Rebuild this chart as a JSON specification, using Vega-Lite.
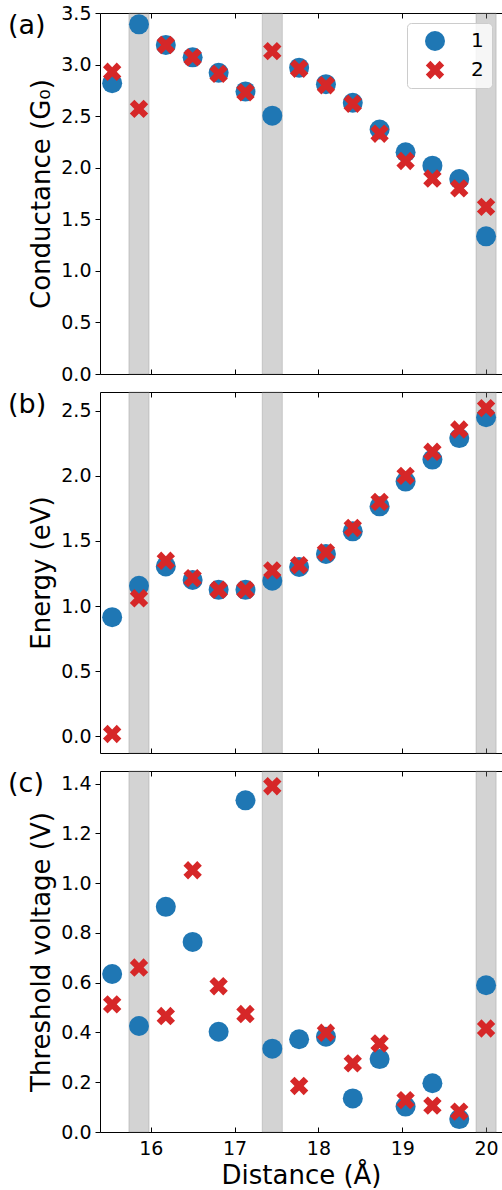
{
  "$schema": "https://vega.github.io/schema/vega-lite/v6.json",
  "autosize": {"type": "pad"},
  "padding": {"left": 8, "top": 4, "right": 0, "bottom": 0},
  "datasets": {
    "pts": [
      {"distance": 15.54, "series": "1", "conductance": 2.82, "energy": 0.915, "voltage": 0.635},
      {"distance": 15.86, "series": "1", "conductance": 3.39, "energy": 1.156, "voltage": 0.426},
      {"distance": 16.18, "series": "1", "conductance": 3.19, "energy": 1.305, "voltage": 0.905},
      {"distance": 16.50, "series": "1", "conductance": 3.07, "energy": 1.20, "voltage": 0.764},
      {"distance": 16.81, "series": "1", "conductance": 2.92, "energy": 1.125, "voltage": 0.403},
      {"distance": 17.13, "series": "1", "conductance": 2.74, "energy": 1.125, "voltage": 1.333},
      {"distance": 17.45, "series": "1", "conductance": 2.505, "energy": 1.195, "voltage": 0.335},
      {"distance": 17.77, "series": "1", "conductance": 2.97, "energy": 1.30, "voltage": 0.373},
      {"distance": 18.09, "series": "1", "conductance": 2.81, "energy": 1.40, "voltage": 0.383},
      {"distance": 18.41, "series": "1", "conductance": 2.63, "energy": 1.574, "voltage": 0.135},
      {"distance": 18.73, "series": "1", "conductance": 2.37, "energy": 1.766, "voltage": 0.293},
      {"distance": 19.04, "series": "1", "conductance": 2.15, "energy": 1.956, "voltage": 0.102},
      {"distance": 19.36, "series": "1", "conductance": 2.02, "energy": 2.125, "voltage": 0.196},
      {"distance": 19.68, "series": "1", "conductance": 1.89, "energy": 2.29, "voltage": 0.052},
      {"distance": 20.00, "series": "1", "conductance": 1.335, "energy": 2.45, "voltage": 0.59},
      {"distance": 15.54, "series": "2", "conductance": 2.93, "energy": 0.018, "voltage": 0.513},
      {"distance": 15.86, "series": "2", "conductance": 2.57, "energy": 1.06, "voltage": 0.661},
      {"distance": 16.18, "series": "2", "conductance": 3.19, "energy": 1.348, "voltage": 0.466},
      {"distance": 16.50, "series": "2", "conductance": 3.07, "energy": 1.215, "voltage": 1.052},
      {"distance": 16.81, "series": "2", "conductance": 2.91, "energy": 1.125, "voltage": 0.586},
      {"distance": 17.13, "series": "2", "conductance": 2.73, "energy": 1.125, "voltage": 0.474},
      {"distance": 17.45, "series": "2", "conductance": 3.13, "energy": 1.274, "voltage": 1.39},
      {"distance": 17.77, "series": "2", "conductance": 2.96, "energy": 1.315, "voltage": 0.185},
      {"distance": 18.09, "series": "2", "conductance": 2.80, "energy": 1.412, "voltage": 0.399},
      {"distance": 18.41, "series": "2", "conductance": 2.62, "energy": 1.60, "voltage": 0.276},
      {"distance": 18.73, "series": "2", "conductance": 2.33, "energy": 1.80, "voltage": 0.356},
      {"distance": 19.04, "series": "2", "conductance": 2.065, "energy": 2.0, "voltage": 0.128},
      {"distance": 19.36, "series": "2", "conductance": 1.895, "energy": 2.185, "voltage": 0.106},
      {"distance": 19.68, "series": "2", "conductance": 1.80, "energy": 2.356, "voltage": 0.082},
      {"distance": 20.00, "series": "2", "conductance": 1.62, "energy": 2.52, "voltage": 0.416}
    ],
    "bands": [
      {"start": 15.74, "end": 15.98},
      {"start": 17.33, "end": 17.57},
      {"start": 19.88, "end": 20.12}
    ]
  },
  "spacing": 18,
  "bounds": "flush",
  "resolve": {"legend": {"color": "independent", "shape": "independent"}},
  "vconcat": [
    {
      "width": 402, "height": 361,
      "resolve": {"axis": {"x": "independent"}},
      "layer": [
        {
          "data": {"name": "bands"},
          "mark": {"type": "rect", "fill": "gray", "fillOpacity": 0.35, "stroke": "gray", "strokeOpacity": 0.3, "strokeWidth": 1, "y2Offset": 18},
          "encoding": {
            "x": {"field": "start", "type": "quantitative", "scale": {"domain": [15.395, 20.19], "nice": false, "zero": false},
                  "axis": {"orient": "top", "labels": false, "tickSize": -5, "values": [16, 17, 18, 19, 20], "title": null}},
            "x2": {"field": "end"}
          }
        },
        {
          "data": {"name": "pts"},
          "mark": {"type": "point", "filled": true, "size": 400, "opacity": 1, "strokeWidth": 0},
          "encoding": {
            "x": {"field": "distance", "type": "quantitative", "scale": {"domain": [15.395, 20.19], "nice": false, "zero": false},
                  "axis": {"orient": "bottom", "labels": false, "tickSize": -5, "values": [16, 17, 18, 19, 20], "title": null}},
            "y": {"field": "conductance", "type": "quantitative", "scale": {"domain": [0, 3.5], "nice": false, "zero": false},
                  "axis": {"title": "Conductance (G₀)", "values": [0, 0.5, 1, 1.5, 2, 2.5, 3, 3.5], "format": ".1f", "tickSize": 5, "labelPadding": 4, "titlePadding": 6}},
            "color": {"field": "series", "type": "nominal", "scale": {"domain": ["1", "2"], "range": ["#1f77b4", "#d62728"]},
                      "legend": {"title": null, "orient": "top-right", "offset": 10, "padding": 8, "symbolOffset": 10, "labelOffset": 26, "rowPadding": 9, "symbolSize": 400, "labelFontSize": 20, "fillColor": "rgba(255,255,255,0.8)", "strokeColor": "#cccccc", "cornerRadius": 4, "symbolStrokeWidth": 0}},
            "shape": {"field": "series", "type": "nominal", "scale": {"domain": ["1", "2"], "range": ["circle", "M-0.46,-0.92L0,-0.46L0.46,-0.92L0.92,-0.46L0.46,0L0.92,0.46L0.46,0.92L0,0.46L-0.46,0.92L-0.92,0.46L-0.46,0L-0.92,-0.46Z"]},
                      "legend": {"title": null, "orient": "top-right", "offset": 10, "padding": 8, "symbolOffset": 10, "labelOffset": 26, "rowPadding": 9, "symbolSize": 400, "labelFontSize": 20, "fillColor": "rgba(255,255,255,0.8)", "strokeColor": "#cccccc", "cornerRadius": 4, "symbolStrokeWidth": 0}}
          }
        },
        {
          "data": {"values": [{"label": "(a)"}]},
          "mark": {"type": "text", "align": "left", "baseline": "top", "fontSize": 27, "color": "black"},
          "encoding": {
            "x": {"datum": 14.298, "type": "quantitative", "scale": {"domain": [15.395, 20.19], "nice": false, "zero": false}, "axis": null},
            "y": {"datum": 3.5, "type": "quantitative", "scale": {"domain": [0, 3.5], "nice": false, "zero": false},
                  "axis": {"title": "Conductance (G₀)", "values": [0, 0.5, 1, 1.5, 2, 2.5, 3, 3.5], "format": ".1f", "tickSize": 5, "labelPadding": 4, "titlePadding": 6}},
            "text": {"field": "label"}
          }
        }
      ]
    },
    {
      "width": 402, "height": 361,
      "resolve": {"axis": {"x": "independent"}},
      "layer": [
        {
          "data": {"name": "bands"},
          "mark": {"type": "rect", "fill": "gray", "fillOpacity": 0.35, "stroke": "gray", "strokeOpacity": 0.3, "strokeWidth": 1, "y2Offset": 18},
          "encoding": {
            "x": {"field": "start", "type": "quantitative", "scale": {"domain": [15.395, 20.19], "nice": false, "zero": false},
                  "axis": {"orient": "top", "labels": false, "tickSize": -5, "values": [16, 17, 18, 19, 20], "title": null}},
            "x2": {"field": "end"}
          }
        },
        {
          "data": {"name": "pts"},
          "mark": {"type": "point", "filled": true, "size": 400, "opacity": 1, "strokeWidth": 0},
          "encoding": {
            "x": {"field": "distance", "type": "quantitative", "scale": {"domain": [15.395, 20.19], "nice": false, "zero": false},
                  "axis": {"orient": "bottom", "labels": false, "tickSize": -5, "values": [16, 17, 18, 19, 20], "title": null}},
            "y": {"field": "energy", "type": "quantitative", "scale": {"domain": [-0.128, 2.644], "nice": false, "zero": false},
                  "axis": {"title": "Energy (eV)", "values": [0, 0.5, 1, 1.5, 2, 2.5], "format": ".1f", "tickSize": 5, "labelPadding": 4, "titlePadding": 6}},
            "color": {"field": "series", "type": "nominal", "scale": {"domain": ["1", "2"], "range": ["#1f77b4", "#d62728"]}, "legend": null},
            "shape": {"field": "series", "type": "nominal", "scale": {"domain": ["1", "2"], "range": ["circle", "M-0.46,-0.92L0,-0.46L0.46,-0.92L0.92,-0.46L0.46,0L0.92,0.46L0.46,0.92L0,0.46L-0.46,0.92L-0.92,0.46L-0.46,0L-0.92,-0.46Z"]}, "legend": null}
          }
        },
        {
          "data": {"values": [{"label": "(b)"}]},
          "mark": {"type": "text", "align": "left", "baseline": "top", "fontSize": 27, "color": "black"},
          "encoding": {
            "x": {"datum": 14.298, "type": "quantitative", "scale": {"domain": [15.395, 20.19], "nice": false, "zero": false}, "axis": null},
            "y": {"datum": 2.644, "type": "quantitative", "scale": {"domain": [-0.128, 2.644], "nice": false, "zero": false},
                  "axis": {"title": "Energy (eV)", "values": [0, 0.5, 1, 1.5, 2, 2.5], "format": ".1f", "tickSize": 5, "labelPadding": 4, "titlePadding": 6}},
            "text": {"field": "label"}
          }
        }
      ]
    },
    {
      "width": 402, "height": 361,
      "resolve": {"axis": {"x": "independent"}},
      "layer": [
        {
          "data": {"name": "bands"},
          "mark": {"type": "rect", "fill": "gray", "fillOpacity": 0.35, "stroke": "gray", "strokeOpacity": 0.3, "strokeWidth": 1},
          "encoding": {
            "x": {"field": "start", "type": "quantitative", "scale": {"domain": [15.395, 20.19], "nice": false, "zero": false},
                  "axis": {"orient": "top", "labels": false, "tickSize": -5, "values": [16, 17, 18, 19, 20], "title": null}},
            "x2": {"field": "end"}
          }
        },
        {
          "data": {"name": "pts"},
          "mark": {"type": "point", "filled": true, "size": 400, "opacity": 1, "strokeWidth": 0},
          "encoding": {
            "x": {"field": "distance", "type": "quantitative", "scale": {"domain": [15.395, 20.19], "nice": false, "zero": false},
                  "axis": {"orient": "bottom", "tickSize": -5, "labelPadding": 12, "values": [16, 17, 18, 19, 20], "format": "d", "title": "Distance (Å)", "titlePadding": 4, "labelFlush": false}},
            "y": {"field": "voltage", "type": "quantitative", "scale": {"domain": [0, 1.451], "nice": false, "zero": false},
                  "axis": {"title": "Threshold voltage (V)", "values": [0, 0.2, 0.4, 0.6, 0.8, 1.0, 1.2, 1.4], "format": ".1f", "tickSize": 5, "labelPadding": 4, "titlePadding": 6}},
            "color": {"field": "series", "type": "nominal", "scale": {"domain": ["1", "2"], "range": ["#1f77b4", "#d62728"]}, "legend": null},
            "shape": {"field": "series", "type": "nominal", "scale": {"domain": ["1", "2"], "range": ["circle", "M-0.46,-0.92L0,-0.46L0.46,-0.92L0.92,-0.46L0.46,0L0.92,0.46L0.46,0.92L0,0.46L-0.46,0.92L-0.92,0.46L-0.46,0L-0.92,-0.46Z"]}, "legend": null}
          }
        },
        {
          "data": {"values": [{"label": "(c)"}]},
          "mark": {"type": "text", "align": "left", "baseline": "top", "fontSize": 27, "color": "black"},
          "encoding": {
            "x": {"datum": 14.298, "type": "quantitative", "scale": {"domain": [15.395, 20.19], "nice": false, "zero": false}, "axis": null},
            "y": {"datum": 1.451, "type": "quantitative", "scale": {"domain": [0, 1.451], "nice": false, "zero": false},
                  "axis": {"title": "Threshold voltage (V)", "values": [0, 0.2, 0.4, 0.6, 0.8, 1.0, 1.2, 1.4], "format": ".1f", "tickSize": 5, "labelPadding": 4, "titlePadding": 6}},
            "text": {"field": "label"}
          }
        }
      ]
    }
  ],
  "config": {
    "font": "DejaVu Sans",
    "view": {"stroke": null},
    "axis": {
      "domainColor": "#000000", "domainWidth": 1, "tickColor": "#000000", "tickWidth": 1,
      "labelColor": "#000000", "titleColor": "#000000", "labelFontSize": 19, "titleFontSize": 26,
      "titleFontWeight": "normal", "grid": false, "zindex": 1, "labelFlush": false, "labelOverlap": false
    },
    "legend": {"labelColor": "#000000"}
  }
}
